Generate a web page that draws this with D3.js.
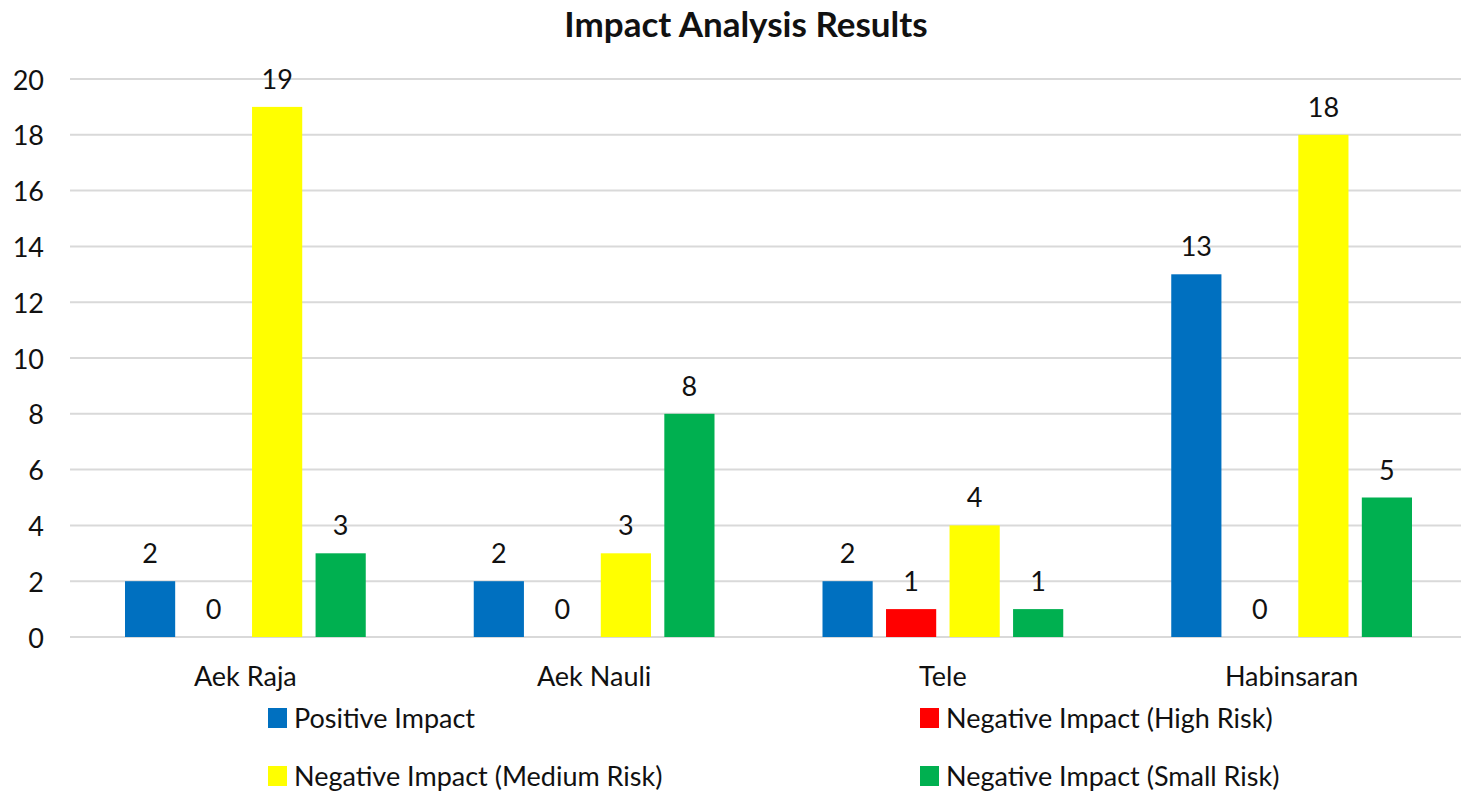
<!DOCTYPE html>
<html>
<head>
<meta charset="utf-8">
<script src="https://cdn.jsdelivr.net/npm/d3@7"></script>
<style>
  body { margin: 0; background: #fff; }
  svg { display: block; font-family: Lato, "Open Sans", sans-serif; }
</style>
</head>
<body>
<div id="chart"></div>
<script>
// data
const categories = ["Aek Raja", "Aek Nauli", "Tele", "Habinsaran"];
const seriesNames = ["Positive Impact", "Negative Impact (High Risk)", "Negative Impact (Medium Risk)", "Negative Impact (Small Risk)"];
const positive = [2, 2, 2, 13];
const highRisk = [0, 0, 1, 0];
const mediumRisk = [19, 3, 4, 18];
const smallRisk = [3, 8, 1, 5];
const colors = ["#0070c0", "#ff0000", "#ffff00", "#00b050"];
const yTicks = [0, 2, 4, 6, 8, 10, 12, 14, 16, 18, 20];

const values = [positive, highRisk, mediumRisk, smallRisk];

const width = 1461;
const height = 791;
const fs = 27;
const textColor = "#111";

const svg = d3.select("#chart").append("svg")
  .attr("width", width)
  .attr("height", height);

// title
svg.append("text")
  .attr("x", 746)
  .attr("y", 37)
  .attr("text-anchor", "middle")
  .attr("font-size", 35)
  .attr("font-weight", "bold")
  .attr("fill", textColor)
  .text("Impact Analysis Results");

// scales
const x0 = d3.scaleBand()
  .domain(categories)
  .range([71, 1466]);

const x1 = d3.scaleBand()
  .domain(seriesNames)
  .range([54, x0.bandwidth() - 54])
  .paddingInner(0.21);

const y = d3.scaleLinear()
  .domain([0, 20])
  .range([637, 79]);

// grid
svg.append("g")
    .attr("stroke", "#d9d9d9")
    .attr("stroke-width", 2)
  .selectAll("line")
  .data(yTicks)
  .join("line")
    .attr("x1", 70)
    .attr("x2", width)
    .attr("y1", d => y(d))
    .attr("y2", d => y(d));

// y axis labels
const yAxis = svg.append("g")
  .attr("transform", "translate(44,0)")
  .call(d3.axisLeft(y).tickValues(yTicks).tickSize(0).tickPadding(0));
yAxis.select(".domain").remove();
yAxis.selectAll("text")
  .attr("dy", null)
  .attr("y", 10)
  .attr("font-size", fs)
  .attr("font-family", "Lato, 'Open Sans', sans-serif")
  .attr("fill", textColor);

// x axis labels
const xAxis = svg.append("g")
  .attr("transform", "translate(0,686)")
  .call(d3.axisBottom(x0).tickSize(0).tickPadding(0));
xAxis.select(".domain").remove();
xAxis.selectAll("text")
  .attr("dy", null)
  .attr("y", 0)
  .attr("font-size", fs)
  .attr("font-family", "Lato, 'Open Sans', sans-serif")
  .attr("fill", textColor);

// bars
const rows = categories.map((c, i) => ({
  cat: c,
  items: seriesNames.map((s, j) => ({ s, j, v: values[j][i] }))
}));

const groups = svg.append("g")
  .selectAll("g")
  .data(rows)
  .join("g")
    .attr("transform", d => `translate(${x0(d.cat)},0)`);

groups.selectAll("rect")
  .data(d => d.items)
  .join("rect")
    .attr("x", d => x1(d.s))
    .attr("y", d => y(d.v))
    .attr("width", x1.bandwidth())
    .attr("height", d => y(0) - y(d.v))
    .attr("fill", d => colors[d.j]);

groups.selectAll("text")
  .data(d => d.items)
  .join("text")
    .attr("x", d => x1(d.s) + x1.bandwidth() / 2)
    .attr("y", d => y(d.v) - 18)
    .attr("text-anchor", "middle")
    .attr("font-size", fs)
    .attr("fill", textColor)
    .text(d => d.v);

// legend 2x2
const legendPos = [[268, 728], [920, 728], [268, 786], [920, 786]];
const legend = svg.append("g")
  .selectAll("g")
  .data(seriesNames)
  .join("g")
    .attr("transform", (d, i) => `translate(${legendPos[i][0]},${legendPos[i][1]})`);

legend.append("rect")
  .attr("x", 0)
  .attr("y", -20)
  .attr("width", 19)
  .attr("height", 20)
  .attr("fill", (d, i) => colors[i]);

legend.append("text")
  .attr("x", 26)
  .attr("y", 0)
  .attr("font-size", fs)
  .attr("fill", textColor)
  .text(d => d);
</script>
</body>
</html>
